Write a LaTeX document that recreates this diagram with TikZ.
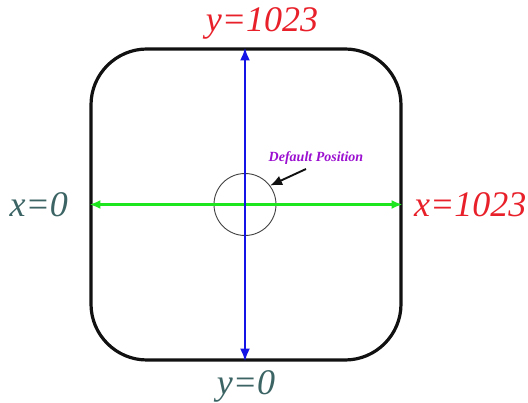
\documentclass[tikz,border=0pt]{standalone}
\usepackage{fontspec}
\setmainfont{Liberation Serif}
\usetikzlibrary{arrows.meta,positioning}
\definecolor{padblack}{HTML}{111111}
\definecolor{axisblue}{HTML}{1414E6}
\definecolor{axisgreen}{HTML}{1EE61E}
\definecolor{maxred}{HTML}{E8202A}
\definecolor{minteal}{HTML}{3C6464}
\definecolor{notepurple}{HTML}{9B10D0}
\tikzset{
  pad/.style={draw=padblack, rounded corners=56pt, line width=3.2pt,
    minimum width=310pt, minimum height=311pt, inner sep=0pt},
  dot/.style={draw=padblack!80, circle, minimum size=62pt, inner sep=0pt,
    line width=0.9pt},
  yaxis/.style={{Latex[length=13pt,width=10pt]}-{Latex[length=13pt,width=10pt]},
    line width=2.6pt, color=axisblue},
  xaxis/.style={{Latex[length=11pt,width=9pt]}-{Latex[length=11pt,width=9pt]},
    line width=2.2pt, color=axisgreen},
  pointer/.style={-{Latex[length=12pt,width=10pt]}, line width=1.9pt, color=padblack},
  axlbl/.style={font=\fontsize{36}{40}\selectfont\itshape, inner sep=0pt},
  note/.style={font=\fontsize{14}{16}\selectfont\bfseries\itshape,
    text=notepurple, inner sep=0pt},
}
\begin{document}
\begin{tikzpicture}[x=1pt,y=-1pt]
  \useasboundingbox (0,0) rectangle (528,403);
  % the pad and its resting spot
  \node[pad] (pad) at (246,204.5) {};
  \node[dot] (dot) at (245,204.5) {};
  % axes
  \draw[xaxis] (pad.west) -- (pad.east);
  \draw[yaxis] (pad.south -| dot.center) -- (pad.north -| dot.center);
  % range labels
  \node[axlbl, text=minteal, anchor=east] (xmin) at (68,205) {x=0};
  \node[axlbl, text=maxred, anchor=west] (xmax) at (414,205) {x=1023};
  \node[axlbl, text=maxred] (ymax) at (262,23) {y=1023};
  \node[axlbl, text=minteal] (ymin) at (246,386) {y=0};
  % default position
  \node[note] (dflt) at (316,158) {Default Position};
  \coordinate (ptail) at (306,169);
  \draw[pointer] (ptail) -- (dot.37);
\end{tikzpicture}
\end{document}
